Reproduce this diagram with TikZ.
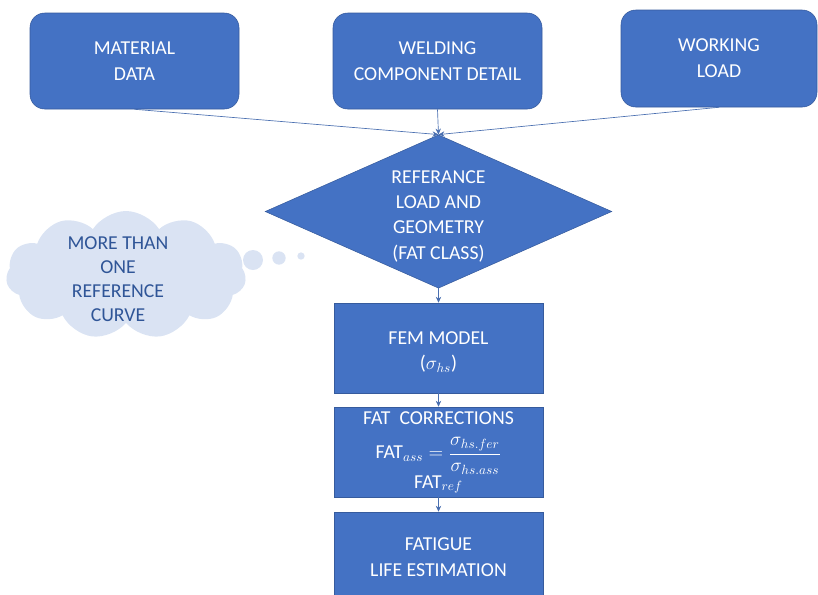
\documentclass[tikz,border=0pt]{standalone}
\usepackage{fontspec}
\setmainfont{Carlito}
\usetikzlibrary{shapes.geometric,shapes.symbols,arrows.meta}
\definecolor{boxblue}{HTML}{4472C4}
\definecolor{cloudfill}{HTML}{DAE3F3}
\definecolor{cloudtext}{HTML}{2F5597}
\definecolor{linkblue}{HTML}{4A6FB0}
\tikzset{
  x=0.75pt, y=-0.75pt,
  box/.style={fill=boxblue, draw=boxblue!80!black, line width=0.4pt, text=white, align=center,
    font=\fontsize{14.8}{19.5}\selectfont, inner sep=2pt},
  rbox/.style={box, rounded corners=11pt},
  decision/.style={diamond, fill=boxblue, draw=boxblue!80!black, line width=0.4pt, inner sep=0pt, aspect=2.27},
  boxtext/.style={text=white, align=center, font=\fontsize{14.8}{19}\selectfont, inner sep=0pt},
  link/.style={draw=linkblue, line width=0.5pt, -{Stealth[length=4.5pt,width=4pt]}},
  thought/.style={fill=cloudfill, draw=none},
}
\begin{document}
\begin{tikzpicture}
\useasboundingbox (0,0) rectangle (818,594);
% top boxes
\node[rbox, minimum width=156.75pt, minimum height=72pt] (mat) at (134.5,61) {MATERIAL\\DATA};
\node[rbox, minimum width=156.75pt, minimum height=72pt] (weld) at (437.5,61) {WELDING\\COMPONENT DETAIL};
\node[rbox, minimum width=147pt, minimum height=72.75pt] (work) at (719,58.5) {WORKING\\LOAD};
% decision
\node[decision, minimum width=260pt, minimum height=115pt] (ref) at (438.5,211.5) {};
\node[boxtext] (reftext) at (438.5,216) {REFERANCE\\LOAD AND\\GEOMETRY\\(FAT CLASS)};
% cloud
\node[cloud, thought, cloud puffs=11, cloud puff arc=115, aspect=2, minimum width=180pt, minimum height=96pt] (cl) at (126,275) {};
\node[text=cloudtext, align=center, font=\fontsize{14.8}{18}\selectfont] (cltext) at (118,279) {MORE THAN\\ONE\\REFERENCE\\CURVE};
\node[circle, thought, minimum size=15pt, inner sep=0pt] (b1) at (253,260) {};
\node[circle, thought, minimum size=10pt, inner sep=0pt] (b2) at (279,258) {};
\node[circle, thought, minimum size=5.5pt, inner sep=0pt] (b3) at (301,256) {};
% lower boxes
\node[box, minimum width=156.75pt, minimum height=67.5pt] (fem) at (438.5,348) {};
\node[boxtext] (femtext) at (438.5,352) {FEM MODEL\\($\sigma_{hs}$)};
\node[box, minimum width=156.75pt, minimum height=67.5pt] (fat) at (438.5,452) {};
\node[boxtext, anchor=base] (fattitle) at (438.5,424) {FAT\ \ CORRECTIONS};
\node[boxtext] (fatformula) at (438.5,456) {FAT$_{ass}=\displaystyle\frac{\sigma_{hs.fer}}{\sigma_{hs.ass}}$};
\node[boxtext, anchor=base] (fatref) at (438.5,488) {FAT$_{ref}$};
\node[box, minimum width=156.75pt, minimum height=67.5pt] (fatigue) at (438.5,557) {FATIGUE\\LIFE ESTIMATION};
% connectors
\draw[link] (mat.south) -- (ref.north);
\draw[link] (weld.south) -- (ref.north);
\draw[link] (work.south) -- (ref.north);
\draw[link] (ref.south) -- (fem.north);
\draw[link] (fem.south) -- (fat.north);
\draw[link] (fat.south) -- (fatigue.north);
\end{tikzpicture}
\end{document}
